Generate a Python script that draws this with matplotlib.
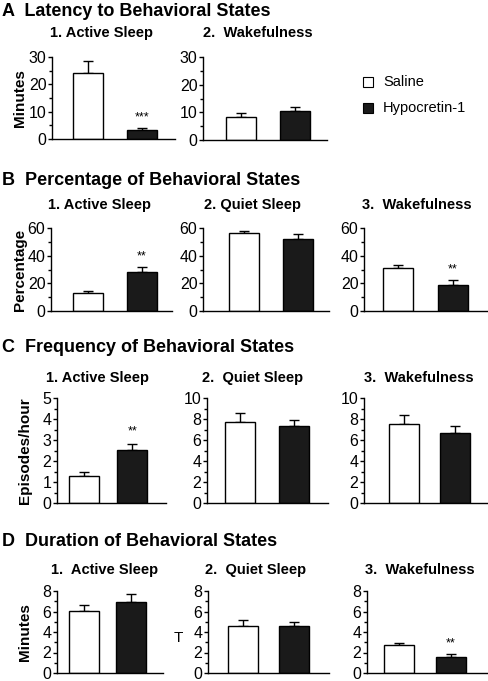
import matplotlib
matplotlib.use('Agg')
import matplotlib.pyplot as plt
from matplotlib.ticker import MultipleLocator
import matplotlib.patches as mpatches

W, H = 489, 681

plt.rcParams.update({
    'font.family': ['Liberation Sans', 'DejaVu Sans'],
    'font.size': 10,
    'axes.linewidth': 1.0,
})

groups = ['Saline', 'Hypocretin-1']
C_WHITE = 'white'
C_BLACK = '#1a1a1a'

# ---- data ----
# A: latency (minutes)
a1_mean = [24.0, 3.3]
a1_err = [4.5, 0.6]
a2_mean = [8.2, 10.5]
a2_err = [1.4, 1.5]
# B: percentage
b1_mean = [12.8, 28.4]
b1_err = [2.0, 3.2]
b2_mean = [56.2, 52.0]
b2_err = [1.3, 3.7]
b3_mean = [30.9, 18.6]
b3_err = [2.4, 3.6]
# C: frequency (episodes/hour)
c1_mean = [1.27, 2.53]
c1_err = [0.19, 0.27]
c2_mean = [7.74, 7.33]
c2_err = [0.8, 0.55]
c3_mean = [7.52, 6.63]
c3_err = [0.83, 0.73]
# D: duration (minutes)
d1_mean = [6.06, 6.95]
d1_err = [0.6, 0.8]
d2_mean = [4.62, 4.56]
d2_err = [0.51, 0.42]
d3_mean = [2.69, 1.6]
d3_err = [0.26, 0.26]

fig = plt.figure(figsize=(W / 100, H / 100), dpi=100)


def fx(x):
    return x / W


def fy(y):
    return 1 - y / H


def panel(x0, x1, ytop, ybot, b1, b2, means, errs, ymax, major, minor,
          stars=None, ylabel=None, ylab_x=None):
    ax = fig.add_axes([fx(x0), fy(ybot), (x1 - x0) / W, (ybot - ytop) / H])
    # place bars at pixel-measured centers
    span = x1 - x0
    c1 = (b1 - x0) / span
    c2 = (b2 - x0) / span
    L = 1.0 / (c2 - c1)
    left = -c1 * L
    ax.set_xlim(left, left + L)
    width = 30.0 / span * L
    ax.bar([0, 1], means, width=width, color=[C_WHITE, C_BLACK],
           edgecolor='black', linewidth=1.0, zorder=2)
    ax.errorbar([0, 1], means, yerr=[[0, 0], errs], fmt='none',
                ecolor='black', elinewidth=1.0, capsize=3.5, capthick=1.0, zorder=1)
    ax.set_ylim(0, ymax)
    ax.yaxis.set_major_locator(MultipleLocator(major))
    ax.yaxis.set_minor_locator(MultipleLocator(minor))
    ax.tick_params(axis='y', which='major', length=3, width=1, labelsize=11.5, pad=1)
    ax.tick_params(axis='y', which='minor', length=2, width=1)
    ax.set_xticks([])
    for s in ['top', 'right']:
        ax.spines[s].set_visible(False)
    ax.spines['left'].set_bounds(0, ymax)
    if stars:
        ax.text(1, means[1] + errs[1] + ymax * 0.06, stars, ha='center',
                va='bottom', fontsize=9)
    if ylabel:
        fig.text(fx(ylab_x), fy((ytop + ybot) / 2), ylabel, rotation=90,
                 ha='center', va='center', fontsize=11, fontweight='bold')
    return ax


def title(x, y, s, size=13):
    fig.text(fx(x), fy(y), s, ha='left', va='center', fontsize=size,
             fontweight='bold')


def sub(x, y, s):
    fig.text(fx(x), fy(y), s, ha='center', va='center', fontsize=10.5,
             fontweight='bold')


# Row A
title(2, 12, 'A  Latency to Behavioral States')
sub(101, 33, '1. Active Sleep')
sub(258, 33, '2.  Wakefulness')
panel(52, 175, 57, 139, 88.5, 142.5, a1_mean, a1_err, 30, 10, 5,
      stars='***', ylabel='Minutes', ylab_x=20)
panel(203, 327, 57, 140, 240.5, 294.5, a2_mean, a2_err, 30, 10, 5)

# legend
lx, ly = 368, 82
for i, (lab, col) in enumerate(zip(groups, [C_WHITE, C_BLACK])):
    yy = ly + i * 26
    fig.patches.append(mpatches.Rectangle((fx(lx - 5), fy(yy + 5)), 10 / W, 10 / H,
                                          transform=fig.transFigure,
                                          facecolor=col, edgecolor='black',
                                          linewidth=0.8))
    fig.text(fx(lx + 15), fy(yy), lab, ha='left', va='center', fontsize=10.5)

# Row B
title(2, 180, 'B  Percentage of Behavioral States')
sub(100, 205, '1. Active Sleep')
sub(253, 205, '2. Quiet Sleep')
sub(417, 205, '3.  Wakefulness')
panel(51, 172, 228, 311, 88, 142, b1_mean, b1_err, 60, 20, 10,
      stars='**', ylabel='Percentage', ylab_x=20)
panel(203, 329, 228, 311, 243.5, 297.5, b2_mean, b2_err, 60, 20, 10)
panel(364, 487, 228, 311, 398, 453, b3_mean, b3_err, 60, 20, 10, stars='**')

# Row C
title(2, 348, 'C  Frequency of Behavioral States')
sub(98, 378, '1. Active Sleep')
sub(253, 378, '2.  Quiet Sleep')
sub(419, 378, '3.  Wakefulness')
panel(57, 166, 398, 503, 84.5, 132.5, c1_mean, c1_err, 5, 1, 0.5,
      stars='**', ylabel='Episodes/hour', ylab_x=25)
panel(207, 328, 398, 503, 240, 294, c2_mean, c2_err, 10, 2, 1)
panel(364, 488, 398, 503, 404, 455, c3_mean, c3_err, 10, 2, 1)

# Row D
title(2, 542, 'D  Duration of Behavioral States')
sub(105, 570, '1.  Active Sleep')
sub(256, 570, '2.  Quiet Sleep')
sub(420, 570, '3.  Wakefulness')
panel(57, 163, 591, 673, 84.5, 131, d1_mean, d1_err, 8, 2, 1,
      ylabel='Minutes', ylab_x=25)
panel(208, 329, 591, 673, 243, 294, d2_mean, d2_err, 8, 2, 1)
panel(367, 487, 591, 673, 399.5, 451, d3_mean, d3_err, 8, 2, 1, stars='**')
fig.text(fx(178), fy(638), 'T', ha='center', va='center', fontsize=11)

fig.savefig('out.png', dpi=100)
